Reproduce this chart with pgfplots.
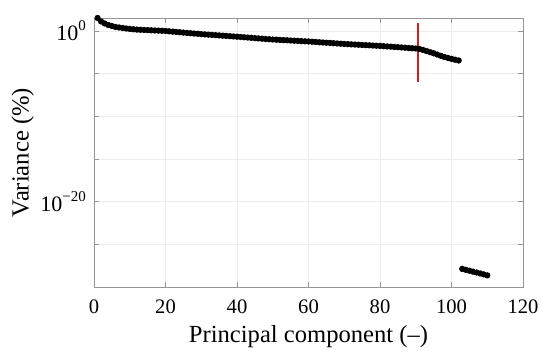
\documentclass[border=0pt]{standalone}
\usepackage{fontspec}
\setmainfont{Liberation Serif}
\usepackage{pgfplots}
\pgfplotsset{compat=1.18}
\definecolor{redline}{RGB}{210,30,35}
\definecolor{axgray}{RGB}{150,150,150}
\newcommand{\sups}[1]{\raisebox{0.45em}{\fontsize{7.5}{8}\selectfont #1}}
\begin{document}
\begin{tikzpicture}
\useasboundingbox (-47pt,-36pt) rectangle (228pt,143.5pt);
\begin{axis}[
  scale only axis,
  width=214.5pt, height=134.5pt,
  ymode=log,
  xmin=0, xmax=120,
  ymin=1e-30, ymax=33.1,
  xtick={0,20,...,120},
  ytick={1e-30,1e-25,1e-20,1e-15,1e-10,1e-5,1},
  yticklabels={,,10\sups{−20},,,,10\sups{0}},
  minor ytick={},
  /pgf/number format/assume math mode=true,
  tick align=inside,
  major tick length=2.5pt,
  grid=major,
  major grid style={gray!15, line width=0.4pt},
  axis line style={axgray, line width=0.5pt},
  tick style={axgray, line width=0.4pt},
  xticklabel style={font=\fontsize{10.3}{12}\selectfont, anchor=base, yshift=-13pt},
  yticklabel style={font=\fontsize{11}{12}\selectfont, xshift=-0.5pt},
  label style={font=\fontsize{12.3}{14}\selectfont},
  xlabel={Principal component (–)},
  ylabel={Variance (\%)},
  xlabel style={at={(axis description cs:0.5,-0.208)}, anchor=base},
  ylabel style={at={(axis description cs:-0.124,0.5)}, anchor=south},
  clip=false,
]
\addplot[black, line width=0.9pt, mark=*, mark size=1.1pt] coordinates {
(1,33.1) (2,12.9) (3,7.59) (4,5.01) (5,3.80) (6,2.95) (7,2.57) (8,2.24) (9,1.95) (10,1.74)
(11,1.58) (12,1.45) (13,1.38) (14,1.32) (15,1.26) (16,1.20) (17,1.15) (18,1.10) (19,1.05) (20,1.00)
(21,0.912) (22,0.832) (23,0.776) (24,0.708) (25,0.646) (26,0.589) (27,0.550) (28,0.501) (29,0.468) (30,0.427)
(31,0.398) (32,0.372) (33,0.347) (34,0.324) (35,0.302) (36,0.282) (37,0.263) (38,0.245) (39,0.229) (40,0.214)
(41,0.200) (42,0.182) (43,0.170) (44,0.158) (45,0.145) (46,0.135) (47,0.126) (48,0.115) (49,0.107) (50,0.100)
(51,0.0955) (52,0.0891) (53,0.0851) (54,0.0813) (55,0.0759) (56,0.0724) (57,0.0692) (58,0.0646) (59,0.0617) (60,0.0589)
(61,0.0550) (62,0.0513) (63,0.0479) (64,0.0447) (65,0.0417) (66,0.0398) (67,0.0372) (68,0.0347) (69,0.0324) (70,0.0302)
(71,0.0288) (72,0.0269) (73,0.0257) (74,0.0245) (75,0.0229) (76,0.0219) (77,0.0209) (78,0.0195) (79,0.0186) (80,0.0178)
(81,0.0166) (82,0.0155) (83,0.0145) (84,0.0135) (85,0.0126) (86,0.0117) (87,0.0110) (88,0.0102) (89,0.00955) (90,0.00891)
(91,0.00794) (92,0.00603) (93,0.00447) (94,0.00331) (95,0.00245) (96,0.00174) (97,0.00123) (98,0.000891) (99,0.000692) (100,0.000537)
(101,0.000427) (102,0.000347)
};
\addplot[black, line width=0.9pt, mark=*, mark size=1.1pt] coordinates {
(103,1.32e-28) (104,1.02e-28) (105,8.13e-29) (106,6.31e-29) (107,5.01e-29) (108,3.89e-29) (109,3.02e-29) (110,2.34e-29)
};
\addplot[redline, line width=1pt] coordinates {(90.5,8) (90.5,1.2e-6)};
\end{axis}
\end{tikzpicture}
\end{document}
